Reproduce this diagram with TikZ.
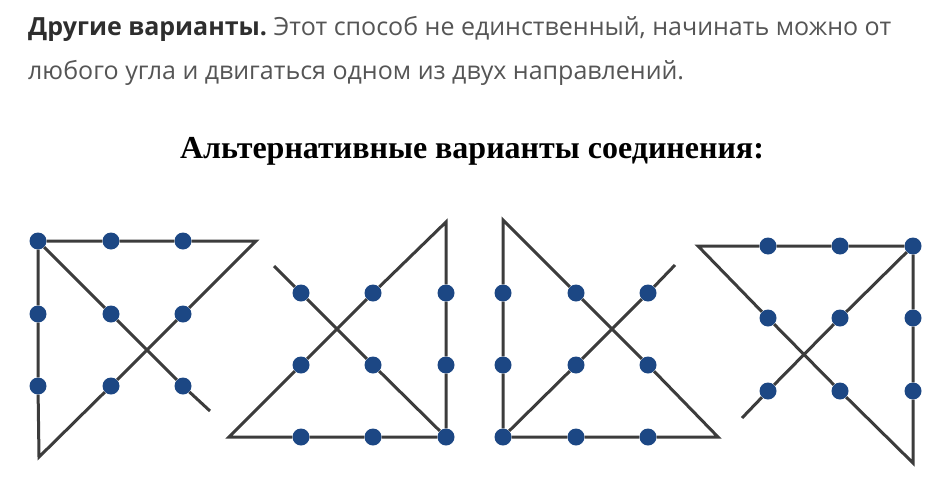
\documentclass[tikz,border=0pt]{standalone}
\usepackage{fontspec}
\setmainfont{Liberation Serif}
\newfontfamily\textsans{Open Sans}
\usetikzlibrary{calc}

\definecolor{dotblue}{HTML}{1C4784}
\definecolor{linegray}{HTML}{3C3C3C}
\definecolor{leadgray}{HTML}{2E2E2E}
\definecolor{bodygray}{HTML}{555555}

\begin{document}
\begin{tikzpicture}[x=1pt,y=-1pt]

\tikzset{
    dot/.style={circle,inner sep=0pt,minimum size=17pt,fill=dotblue},
    route/.style={line width=3pt,draw=linegray},
    txt/.style={inner sep=0pt,anchor=base west}}

\useasboundingbox (0,0) rectangle (937,498);

\node[txt] (lead) at (28,35) {\fontsize{25}{28}\textsans\textcolor{leadgray}{\bfseries Другие варианты.}\ \textcolor{bodygray}{Этот способ не единственный, начинать можно от}};
\node[txt] (lead2) at (28,79) {\fontsize{25}{28}\textsans\textcolor{bodygray}{любого угла и двигаться одном из двух направлений.}};

\node[inner sep=0pt,anchor=base] (title) at (472,158) {\fontsize{32}{36}\selectfont\bfseries Альтернативные варианты соединения:};

% first puzzle
\node[dot] (a1) at (38,241) {};
\node[dot] (a2) at (111,241) {};
\node[dot] (a3) at (183,241) {};
\node[dot] (a4) at (38,314) {};
\node[dot] (a5) at (111,314) {};
\node[dot] (a6) at (183,314) {};
\node[dot] (a7) at (38,386) {};
\node[dot] (a8) at (111,386) {};
\node[dot] (a9) at (183,386) {};
\coordinate (ar) at (256,241);
\coordinate (al) at (39,457);
\coordinate (ae) at (210,411);

% second puzzle
\node[dot] (b1) at (301,293) {};
\node[dot] (b2) at (373,293) {};
\node[dot] (b3) at (446,293) {};
\node[dot] (b4) at (301,365) {};
\node[dot] (b5) at (373,365) {};
\node[dot] (b6) at (446,365) {};
\node[dot] (b7) at (301,437) {};
\node[dot] (b8) at (373,437) {};
\node[dot] (b9) at (446,437) {};
\coordinate (bt) at (446,222);
\coordinate (bl) at (229,437);
\coordinate (bs) at (274,266);

% third puzzle
\node[dot] (c1) at (503,293) {};
\node[dot] (c2) at (576,293) {};
\node[dot] (c3) at (648,293) {};
\node[dot] (c4) at (503,365) {};
\node[dot] (c5) at (576,365) {};
\node[dot] (c6) at (648,365) {};
\node[dot] (c7) at (503,437) {};
\node[dot] (c8) at (576,437) {};
\node[dot] (c9) at (648,437) {};
\coordinate (ct) at (503,220);
\coordinate (cr) at (718,437);
\coordinate (ce) at (675,265);

% fourth puzzle
\node[dot] (d1) at (768,246) {};
\node[dot] (d2) at (840,246) {};
\node[dot] (d3) at (913,246) {};
\node[dot] (d4) at (768,318) {};
\node[dot] (d5) at (840,318) {};
\node[dot] (d6) at (913,318) {};
\node[dot] (d7) at (768,391) {};
\node[dot] (d8) at (840,391) {};
\node[dot] (d9) at (913,391) {};
\coordinate (dl) at (698,246);
\coordinate (db) at (913,463);
\coordinate (de) at (742,418);

\draw[route] (ae) -- (a9) -- (a5) -- (a1) -- (a2) -- (a3) -- (ar) -- (a6) -- (a8) -- (al) -- (a7) -- (a4) -- (a1);
\draw[route] (bs) -- (b1) -- (b5) -- (b9) -- (b6) -- (b3) -- (bt) -- (b2) -- (b4) -- (bl) -- (b7) -- (b8) -- (b9);
\draw[route] (ce) -- (c3) -- (c5) -- (c7) -- (c8) -- (c9) -- (cr) -- (c6) -- (c2) -- (ct) -- (c1) -- (c4) -- (c7);
\draw[route] (de) -- (d7) -- (d5) -- (d3) -- (d2) -- (d1) -- (dl) -- (d4) -- (d8) -- (db) -- (d9) -- (d6) -- (d3);

\end{tikzpicture}
\end{document}
